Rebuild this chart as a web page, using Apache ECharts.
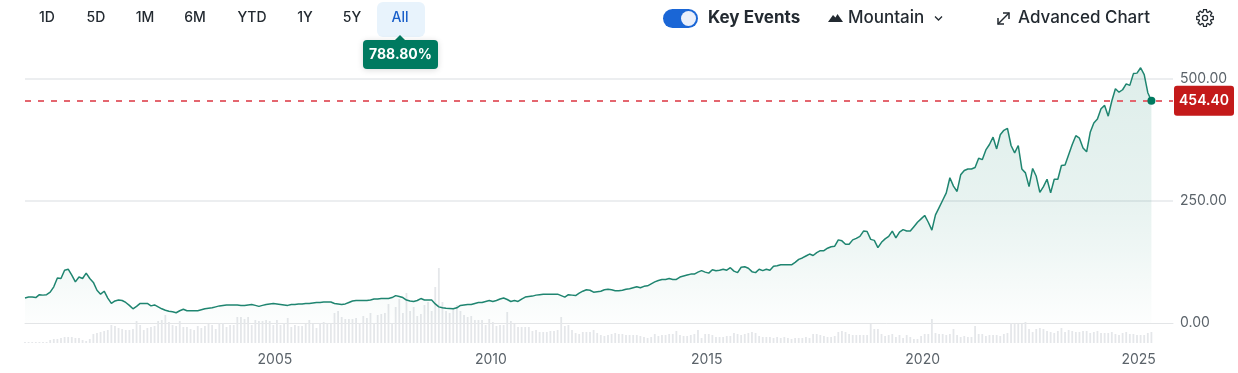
<!DOCTYPE html>
<html>
<head>
<meta charset="utf-8">
<title>Chart</title>
<script src="https://cdn.jsdelivr.net/npm/echarts@6/dist/echarts.min.js"></script>
<style>
html, body { margin: 0; padding: 0; background: #fff; }
#chart { width: 1238px; height: 373px; }
</style>
</head>
<body>
<div id="chart"></div>
<script>
// monthly closes, Mar 1999 - Apr 2025
const closes = [
  51.1, 53, 53, 52, 58, 57, 58, 63, 74, 92, 91, 108, 110, 98, 84, 94, 91, 102, 91, 83,
  67, 59, 65, 51, 40, 45, 47, 46, 42, 36, 29, 34, 40, 40, 40, 35, 37, 33, 29, 26,
  24, 23, 21, 25, 28, 25, 25, 25, 25, 27, 29, 30, 31, 33, 35, 36, 37, 37, 37, 37,
  36, 36, 37, 38, 36, 34, 36, 38, 39, 40, 39, 38, 37, 36, 38, 38, 39, 39, 40, 40,
  41, 42, 42, 43, 43, 43, 40, 39, 38, 39, 42, 45, 46, 46, 46, 46, 47, 49, 49, 50,
  50, 50, 52, 56, 54, 52, 47, 45, 44, 46, 50, 47, 47, 47, 39, 33, 31, 30, 29.5, 29,
  31, 36, 37, 38, 38, 40, 42, 42, 44, 46, 44, 46, 49, 51, 48, 44, 46, 44, 49, 53,
  54, 55, 57, 58, 59, 59, 59, 59, 59, 56, 53, 58, 57, 56, 61, 65, 68, 67, 63, 64,
  65, 68, 69, 68, 66, 66, 67, 69, 70, 72, 74, 72, 75, 76, 80, 84, 87, 89, 89, 91,
  89, 89, 94, 96, 98, 100, 100, 104, 107, 104, 102, 109, 107, 108, 110, 108, 113, 106, 103, 114,
  115, 112, 105, 103, 110, 107, 110, 108, 116, 117, 119, 119, 119, 119, 124, 130, 133, 137, 141, 138,
  144, 148, 148, 153, 156, 157, 170, 168, 161, 161, 170, 173, 177, 188, 187, 171, 169, 154, 165, 172,
  177, 188, 174, 186, 191, 188, 188, 197, 206, 213, 220, 206, 190, 221, 236, 251, 266, 297, 280, 269,
  303, 312, 315, 315, 318, 337, 334, 354, 365, 380, 356, 385, 394, 398, 363, 348, 363, 315, 307, 279,
  316, 300, 267, 279, 294, 266, 294, 294, 322, 323, 344, 365, 383, 378, 358, 350, 390, 409, 417, 438,
  445, 423, 454, 479, 472, 477, 489, 486, 510, 511, 522, 508, 471, 454.4
]
const volumes = [
  1, 1, 1, 1, 1, 1, 1, 3, 4, 4, 5, 6, 6, 6, 5, 5, 3, 2, 4, 9,
  10, 11, 12, 13, 18, 17, 15, 14, 13, 13, 14, 22, 18, 13, 15, 16, 17, 22, 23, 28,
  21, 18, 17, 22, 16, 16, 14, 13, 17, 15, 17, 19, 18, 14, 20, 20, 16, 18, 18, 26,
  26, 24, 26, 18, 23, 22, 22, 23, 22, 18, 23, 18, 20, 25, 16, 18, 17, 17, 19, 23,
  19, 15, 20, 21, 20, 20, 30, 32, 26, 24, 24, 24, 25, 20, 27, 25, 30, 20, 28, 29,
  30, 39, 20, 36, 44, 30, 50, 32, 36, 27, 29, 38, 41, 32, 56, 75, 41, 32, 30, 34,
  38, 32, 28, 26, 27, 23, 23, 23, 18, 24, 21, 17, 18, 18, 31, 22, 19, 16, 16, 16,
  16, 12, 13, 11, 11, 11, 12, 12, 13, 26, 17, 18, 13, 10, 9, 11, 11, 11, 13, 10,
  8, 7, 8, 9, 10, 9, 9, 8, 8, 8, 8, 7, 6, 5, 6, 9, 7, 8, 8, 9,
  9, 12, 8, 7, 7, 8, 9, 13, 5, 9, 9, 8, 6, 6, 6, 7, 7, 10, 9, 8,
  9, 10, 11, 10, 7, 6, 6, 6, 5, 6, 5, 6, 5, 4, 5, 5, 5, 6, 5, 9,
  9, 8, 7, 6, 6, 7, 11, 12, 11, 9, 8, 8, 8, 8, 8, 19, 14, 14, 9, 7,
  8, 9, 6, 8, 5, 8, 6, 4, 4, 7, 9, 9, 24, 10, 9, 9, 8, 9, 14, 8,
  6, 7, 6, 6, 17, 9, 9, 7, 8, 8, 8, 7, 9, 10, 20, 19, 19, 19, 21, 14,
  11, 14, 15, 14, 12, 11, 10, 12, 15, 11, 13, 12, 11, 11, 12, 12, 10, 11, 12, 10,
  10, 10, 11, 9, 8, 10, 11, 9, 9, 8, 8, 8, 10, 11
]
const tickYears = ['2005', '2010', '2015', '2020', '2025']
const rangeButtons = ['1D', '5D', '1M', '6M', 'YTD', '1Y', '5Y', 'All']
const rangeX = [47, 96, 145, 195, 252, 305, 352, 400]
const lastPrice = 454.4

// months, with a few empty ones after the last close so the grid runs on to the labels
const months = []
for (let i = 0; i < 320; i++) {
  const m = i + 2
  months.push((1999 + Math.floor(m / 12)) + '-' + String(m % 12 + 1).padStart(2, '0'))
}

const FONT = 'Inter, "Noto Sans", sans-serif'
const INK = '#232a31'

function label(text, x, size, weight, color, align) {
  return {
    type: 'text',
    x: x,
    y: 18,
    style: { text: text, fill: color, font: weight + ' ' + size + 'px ' + FONT, textAlign: align || 'center', textVerticalAlign: 'middle' }
  }
}

// settings icon, just an eight tooth outline
function gearPoints(cx, cy) {
  const pts = []
  for (let i = 0; i < 8; i++) {
    const a = i * Math.PI / 4
    ;[[-0.3, 6.2], [-0.17, 8.4], [0.17, 8.4], [0.3, 6.2]].forEach((p) => {
      pts.push([cx + p[1] * Math.cos(a + p[0]), cy + p[1] * Math.sin(a + p[0])])
    })
  }
  return pts
}

// the toolbar above the chart
const toolbar = [
  { type: 'rect', shape: { x: 377, y: 2, width: 48, height: 35, r: 6 }, style: { fill: '#e8f3fc' } },
  {
    type: 'polygon',
    shape: { points: [[394, 41], [400, 35], [406, 41]] },
    style: { fill: '#007a60' },
    z: 5
  },
  {
    type: 'rect',
    shape: { x: 363, y: 40, width: 75, height: 29, r: 4 },
    style: { fill: '#007a60', shadowBlur: 6, shadowColor: 'rgba(0,0,0,0.15)', shadowOffsetY: 1 },
    z: 5
  },
  {
    type: 'text',
    x: 400.5,
    y: 54.5,
    z: 6,
    style: { text: '788.80%', fill: '#fff', font: '700 14px ' + FONT, textAlign: 'center', textVerticalAlign: 'middle' }
  },
  { type: 'rect', shape: { x: 663, y: 9, width: 35, height: 19, r: 9.5 }, style: { fill: '#1a66d6' } },
  { type: 'circle', shape: { cx: 688.5, cy: 18.5, r: 7.5 }, style: { fill: '#e9effb' } },
  label('Key Events', 708, 17, 700, INK, 'left'),
  { type: 'polygon', shape: { points: [[828, 22], [833, 15], [835.5, 17.5], [837.5, 14], [843, 22]] }, style: { fill: INK } },
  label('Mountain', 848, 17, 500, INK, 'left'),
  { type: 'polyline', shape: { points: [[935, 16.5], [938.5, 20], [942, 16.5]] }, style: { stroke: INK, lineWidth: 1.3, fill: null } },
  { type: 'line', shape: { x1: 998, y1: 24, x2: 1009, y2: 13 }, style: { stroke: INK, lineWidth: 1.5 } },
  { type: 'polyline', shape: { points: [[1003, 13], [1009, 13], [1009, 19]] }, style: { stroke: INK, lineWidth: 1.5, fill: null } },
  { type: 'polyline', shape: { points: [[998, 18], [998, 24], [1004, 24]] }, style: { stroke: INK, lineWidth: 1.5, fill: null } },
  label('Advanced Chart', 1018, 17, 500, INK, 'left'),
  { type: 'polygon', shape: { points: gearPoints(1205, 18) }, style: { stroke: INK, lineWidth: 1.3, fill: null } },
  { type: 'circle', shape: { cx: 1205, cy: 18, r: 2.6 }, style: { stroke: INK, lineWidth: 1.3, fill: null } }
]
rangeButtons.forEach((name, idx) => {
  toolbar.push(label(name, rangeX[idx], 14, 500, name === 'All' ? '#1a5fc9' : INK))
})

const option = {
  animation: false,
  backgroundColor: '#fff',
  textStyle: { fontFamily: FONT },
  graphic: toolbar,
  grid: [
    { left: 25, right: 65, top: 78.5, height: 244.5 },
    { left: 25, right: 65, top: 268, height: 75 }
  ],
  xAxis: [
    {
      type: 'category',
      gridIndex: 0,
      data: months,
      boundaryGap: false,
      axisLine: { show: true, lineStyle: { color: '#e3e5e7', width: 1 } },
      axisTick: { show: false },
      axisLabel: { show: false },
      splitLine: { show: false }
    },
    {
      type: 'category',
      gridIndex: 1,
      data: months,
      boundaryGap: false,
      axisLine: { show: false },
      axisTick: { show: false },
      splitLine: { show: false },
      axisLabel: {
        margin: 10,
        color: '#5b636a',
        fontSize: 14,
        padding: [0, 4, 0, 0],
        interval: (idx, val) => val.endsWith('-01') && tickYears.includes(val.slice(0, 4)),
        formatter: (val) => val.slice(0, 4)
      }
    }
  ],
  yAxis: [
    {
      type: 'value',
      gridIndex: 0,
      position: 'right',
      min: 0,
      max: 500,
      interval: 250,
      axisLine: { show: false },
      axisTick: { show: false },
      axisLabel: {
        margin: 7,
        color: '#5b636a',
        fontSize: 14,
        padding: [2, 0, 0, 0],
        formatter: (val) => val.toFixed(2)
      },
      splitLine: { show: true, showMinLine: false, lineStyle: { color: '#eceef0', width: 2 } }
    },
    {
      type: 'value',
      gridIndex: 1,
      min: 0,
      max: 75,
      show: false,
      splitLine: { show: false }
    }
  ],
  series: [
    {
      name: 'Volume',
      type: 'bar',
      xAxisIndex: 1,
      yAxisIndex: 1,
      data: volumes,
      barWidth: 1.8,
      itemStyle: { color: '#e5e7ea' },
      z: 1
    },
    {
      name: 'Close',
      type: 'line',
      xAxisIndex: 0,
      yAxisIndex: 0,
      data: closes,
      clip: false,
      symbol: 'none',
      lineStyle: { color: '#1f8570', width: 1.5 },
      areaStyle: {
        color: {
          type: 'linear',
          global: true,
          x: 0,
          y: 60,
          x2: 0,
          y2: 323,
          colorStops: [
            { offset: 0, color: 'rgba(0,122,96,0.19)' },
            { offset: 0.55, color: 'rgba(0,122,96,0.13)' },
            { offset: 0.72, color: 'rgba(0,122,96,0.09)' },
            { offset: 1, color: 'rgba(0,122,96,0.01)' }
          ]
        }
      },
      z: 3,
      markLine: {
        silent: true,
        symbol: 'none',
        data: [{ yAxis: lastPrice }],
        lineStyle: { color: '#e4666f', type: [6, 7], width: 2, opacity: 1 },
        label: {
          show: true,
          position: 'end',
          distance: 1,
          formatter: () => lastPrice.toFixed(2),
          color: '#fff',
          fontSize: 14,
          fontWeight: 600,
          backgroundColor: '#c41a1a',
          borderRadius: 3,
          padding: [8, 5]
        }
      },
      markPoint: {
        silent: true,
        symbol: 'circle',
        symbolSize: 8,
        itemStyle: { color: '#007a60' },
        label: { show: false },
        data: [{ coord: [closes.length - 1, lastPrice] }]
      }
    }
  ]
}

const myChart = echarts.init(document.getElementById('chart'))
myChart.setOption(option)
</script>
</body>
</html>
